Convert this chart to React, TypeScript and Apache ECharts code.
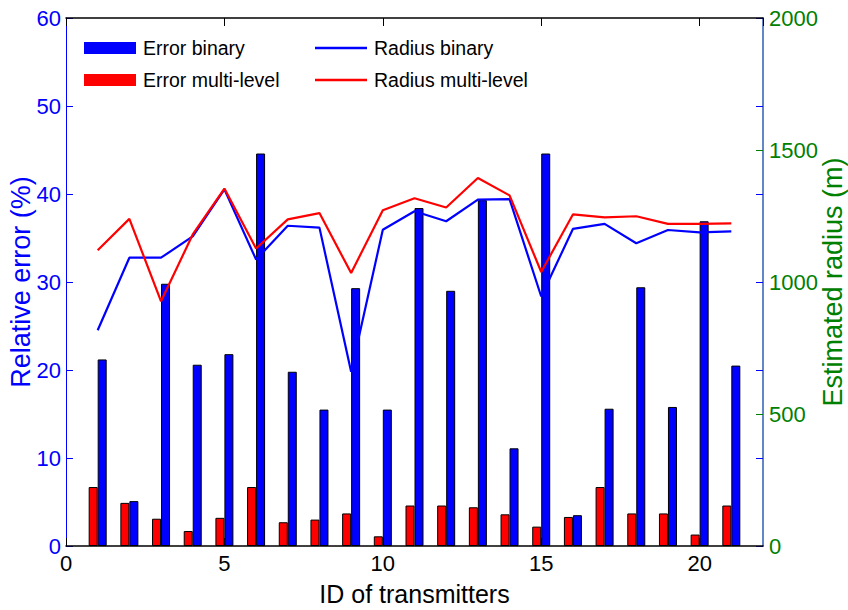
import React, { useEffect, useRef } from "react";
import * as echarts from "echarts";

const ids = [1, 2, 3, 4, 5, 6, 7, 8, 9, 10, 11, 12, 13, 14, 15, 16, 17, 18, 19, 20, 21];
const errorBinary = [21.2, 5.1, 29.8, 20.6, 21.8, 44.6, 19.8, 15.5, 29.3, 15.5, 38.4, 29.0, 39.3, 11.1, 44.6, 3.5, 15.6, 29.4, 15.8, 36.9, 20.5];
const errorMulti = [6.7, 4.9, 3.1, 1.7, 3.2, 6.7, 2.7, 3.0, 3.7, 1.1, 4.6, 4.6, 4.4, 3.6, 2.2, 3.3, 6.7, 3.7, 3.7, 1.3, 4.6];
const radiusBinary = [817, 1092, 1092, 1173, 1351, 1085, 1213, 1206, 660, 1198, 1268, 1230, 1312, 1314, 945, 1201, 1220, 1147, 1197, 1188, 1192];
const radiusMulti = [1120, 1239, 927, 1180, 1354, 1127, 1237, 1261, 1034, 1272, 1317, 1282, 1394, 1328, 1038, 1256, 1245, 1249, 1220, 1220, 1222];

const xTicks = { min: 0, max: 22, interval: 5 };
const leftTicks = { min: 0, max: 60, interval: 10 };
const rightTicks = { min: 0, max: 2000, interval: 500 };

const FONT = "'Liberation Sans', Arial, sans-serif";
const BLUE = "#0000ff";
const RED = "#ff0000";
const GREEN = "#008000";

export default function App() {
  const ref = useRef<HTMLDivElement>(null);
  useEffect(() => {
    if (!ref.current) return;
    const chart = echarts.init(ref.current, null, { renderer: "svg" });
    const pair = (ys: number[]) => ids.map((x, i) => [x, ys[i]]);
    chart.setOption({
      animation: false,
      backgroundColor: "#ffffff",
      textStyle: { fontFamily: FONT },
      grid: { left: 66, right: 85, top: 18, bottom: 64, containLabel: false, outerBoundsMode: "none" },
      legend: [
        {
          data: ["Error binary", "Error multi-level"],
          orient: "vertical",
          left: 79,
          top: 33,
          itemWidth: 52,
          itemHeight: 12,
          itemGap: 12,
          icon: "rect",
          itemStyle: { borderWidth: 0 },
          textStyle: { fontSize: 19.5, color: "#000", fontFamily: FONT, padding: [0, 0, 0, 2] },
          selectedMode: false,
        },
        {
          data: ["Radius binary", "Radius multi-level"],
          orient: "vertical",
          left: 310,
          top: 33,
          itemWidth: 52,
          itemHeight: 2.5,
          itemGap: 12,
          icon: "rect",
          itemStyle: { borderWidth: 0 },
          textStyle: { fontSize: 19.5, color: "#000", fontFamily: FONT, padding: [0, 0, 0, 2] },
          selectedMode: false,
        },
      ],
      xAxis: [
        {
          type: "value",
          position: "bottom",
          ...xTicks,
          z: 5,
          name: "ID of transmitters",
          nameLocation: "middle",
          nameGap: 35,
          nameMoveOverlap: false,
          nameTextStyle: { fontSize: 25, color: "#000", fontFamily: FONT },
          axisLine: { show: true, onZero: false, lineStyle: { color: "#000", width: 1.5 } },
          axisTick: { show: true, inside: true, length: 8, lineStyle: { color: "#000" } },
          axisLabel: {
            fontSize: 22,
            color: "#000",
            margin: 6,
            fontFamily: FONT,
            showMaxLabel: false,
            formatter: (v: number) => (v % 5 === 0 ? String(v) : ""),
          },
          splitLine: { show: false },
        },
        {
          type: "value",
          position: "top",
          ...xTicks,
          z: 5,
          axisLine: { show: true, onZero: false, lineStyle: { color: "#000", width: 1.5 } },
          axisTick: { show: true, inside: true, length: 8, lineStyle: { color: "#000" } },
          axisLabel: { show: false },
          splitLine: { show: false },
        },
      ],
      yAxis: [
        {
          type: "value",
          position: "left",
          ...leftTicks,
          z: 4,
          name: "Relative error (%)",
          nameLocation: "middle",
          nameGap: 32,
          nameMoveOverlap: false,
          nameRotate: 90,
          nameTextStyle: { fontSize: 27, color: BLUE, fontFamily: FONT },
          axisLine: { show: true, onZero: false, lineStyle: { color: BLUE, width: 1 } },
          axisTick: { show: true, inside: true, length: 7, lineStyle: { color: BLUE } },
          axisLabel: { fontSize: 22, color: BLUE, margin: 5, fontFamily: FONT, formatter: (v: number) => String(v) },
          splitLine: { show: false },
        },
        {
          type: "value",
          position: "right",
          ...rightTicks,
          z: 4,
          name: "Estimated radius (m)",
          nameLocation: "middle",
          nameGap: 56,
          nameMoveOverlap: false,
          nameRotate: 90,
          nameTextStyle: { fontSize: 27, color: GREEN, fontFamily: FONT },
          axisLine: { show: true, onZero: false, lineStyle: { color: "#2f5fb3", width: 1.5 } },
          axisTick: { show: true, inside: true, length: 7, lineStyle: { color: GREEN } },
          axisLabel: { fontSize: 22, color: GREEN, margin: 6, fontFamily: FONT, formatter: (v: number) => String(v) },
          splitLine: { show: false },
        },
        {
          type: "value",
          position: "right",
          ...leftTicks,
          z: 4,
          axisLine: { show: false, onZero: false },
          axisTick: { show: true, inside: true, length: 7, lineStyle: { color: BLUE } },
          axisLabel: { show: false },
          splitLine: { show: false },
        },
      ],
      series: [
        {
          name: "Error multi-level",
          type: "bar",
          xAxisIndex: 0,
          yAxisIndex: 0,
          barWidth: 9,
          barGap: "0%",
          data: pair(errorMulti),
          itemStyle: { color: RED, borderColor: "#000", borderWidth: 1 },
          z: 2,
        },
        {
          name: "Error binary",
          type: "bar",
          xAxisIndex: 0,
          yAxisIndex: 0,
          barWidth: 9,
          barGap: "0%",
          data: pair(errorBinary),
          itemStyle: { color: BLUE, borderColor: "#000", borderWidth: 1 },
          z: 2,
        },
        {
          name: "Radius binary",
          type: "line",
          xAxisIndex: 0,
          yAxisIndex: 1,
          data: pair(radiusBinary),
          showSymbol: false,
          symbol: "none",
          color: BLUE,
          lineStyle: { color: BLUE, width: 2.2 },
          z: 3,
        },
        {
          name: "Radius multi-level",
          type: "line",
          xAxisIndex: 0,
          yAxisIndex: 1,
          data: pair(radiusMulti),
          showSymbol: false,
          symbol: "none",
          color: RED,
          lineStyle: { color: RED, width: 2.2 },
          z: 3,
        },
      ],
    });
    return () => chart.dispose();
  }, []);
  return (
    <div
      ref={ref}
      style={{ position: "fixed", left: 0, top: 0, width: 848, height: 610, background: "#fff" }}
    />
  );
}
